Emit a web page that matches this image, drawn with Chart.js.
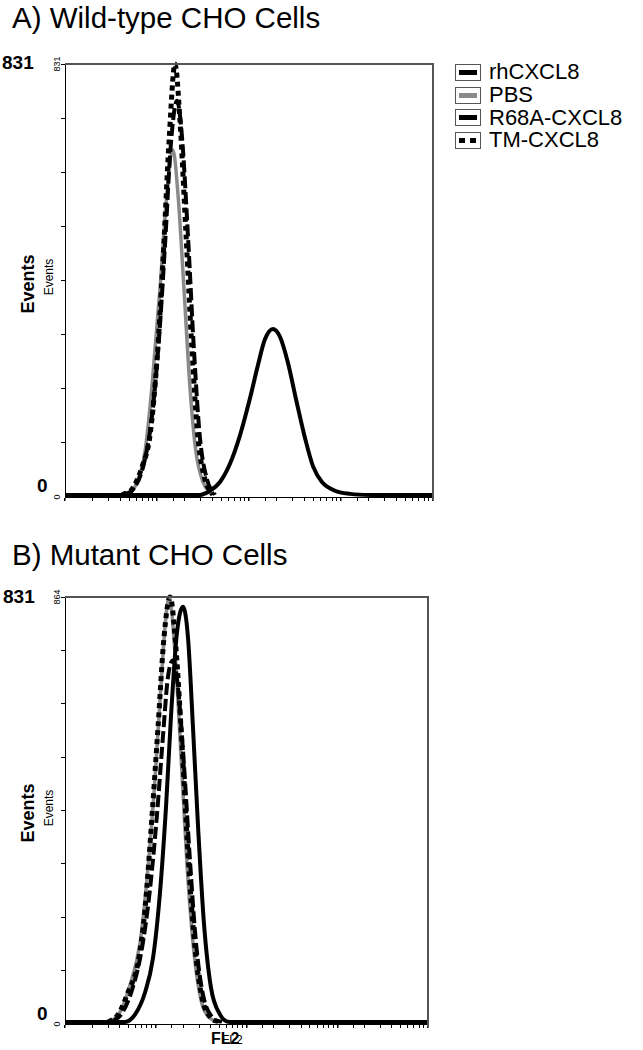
<!DOCTYPE html>
<html>
<head>
<meta charset="utf-8">
<script src="https://cdn.jsdelivr.net/npm/chart.js@4"></script>
<style>
  body { margin: 0; background: #fff; width: 643px; height: 1050px; position: relative; overflow: hidden;
         font-family: "Liberation Sans", Arial, sans-serif; color: #000; }
  canvas { position: absolute; }
  .t { position: absolute; white-space: nowrap; line-height: 1; }
  .rot { position: absolute; white-space: nowrap; line-height: 1; transform: translate(-50%, -50%) rotate(-90deg); }
  .leg { position: absolute; left: 455px; top: 61px; }
  .leg .row { height: 22.7px; display: flex; align-items: center; font-size: 22px; }
  .leg .box { width: 26px; height: 17px; border: 1px solid #555; margin-right: 8px; position: relative; box-sizing: border-box; }
  .leg .ln { position: absolute; left: 3px; right: 3px; top: 5px; height: 5px; }
</style>
</head>
<body>
<div class="t" style="left:12px;top:3px;font-size:29.5px;">A) Wild-type CHO Cells</div>
<div class="t" style="left:12px;top:540px;font-size:29.5px;">B) Mutant CHO Cells</div>

<div class="t" style="left:2px;top:53px;font-size:19px;font-weight:bold;">831</div>
<div class="t" style="left:37px;top:476px;font-size:19px;font-weight:bold;">0</div>
<div class="rot" style="left:57px;top:64px;font-size:9px;">831</div>
<div class="rot" style="left:57px;top:497px;font-size:9px;">0</div>
<div class="rot" style="left:28px;top:284px;font-size:18px;font-weight:bold;">Events</div>
<div class="rot" style="left:49px;top:277px;font-size:12px;">Events</div>

<div class="t" style="left:3px;top:587px;font-size:19px;font-weight:bold;">831</div>
<div class="t" style="left:37px;top:1004px;font-size:19px;font-weight:bold;">0</div>
<div class="rot" style="left:57px;top:597px;font-size:9px;">864</div>
<div class="rot" style="left:57px;top:1024px;font-size:9px;">0</div>
<div class="rot" style="left:28px;top:813px;font-size:18px;font-weight:bold;">Events</div>
<div class="rot" style="left:49px;top:808px;font-size:12px;">Events</div>
<div class="t" style="left:211px;top:1031px;font-size:16px;font-weight:bold;">FL2</div>
<div class="t" style="left:222px;top:1034px;font-size:12px;">FL2</div>

<div class="leg" id="legend"></div>

<canvas id="chartA" width="388" height="453" style="left:53px;top:56px;"></canvas>
<canvas id="chartB" width="383" height="447" style="left:53px;top:589px;"></canvas>

<script>
// series labels
const seriesNames = ['rhCXCL8', 'PBS', 'R68A-CXCL8', 'TM-CXCL8'];

// Panel A: wild-type CHO cells (FL2 channel, events)
const rhA_fl2 = [1, 29.3, 37.7, 48.4, 62.1, 79.8, 102, 125, 149, 182, 217, 265, 324, 406, 497, 621, 861, 1253, 2067, 10000];
const rhA_events = [0, 0, 8, 25, 60, 115, 185, 250, 300, 320, 305, 255, 185, 110, 55, 25, 8, 2, 0, 0];
const pbsA_fl2 = [4.5, 5.8, 7.4, 8.8, 10.8, 12.8, 14.9, 16.9, 19.6, 22.8, 26.5, 31.6, 39.6];
const pbsA_events = [0, 17, 83, 208, 400, 580, 665, 580, 400, 208, 83, 25, 0];
const r68aA_fl2 = [4.4, 5.6, 7.2, 8.8, 10.5, 12.2, 14.2, 16.5, 18.7, 21.7, 25.2, 29.3, 34.9, 42.7];
const r68aA_events = [0, 12, 60, 150, 300, 480, 680, 760, 690, 500, 280, 110, 30, 0];
const tmA_fl2 = [4.2, 5.4, 6.9, 8.4, 10.0, 11.6, 13.5, 15.7, 17.8, 20.7, 24.0, 27.9, 33.2, 40.6];
const tmA_events = [0, 12, 55, 115, 260, 450, 680, 831, 720, 500, 280, 110, 30, 0];

// Panel B: mutant CHO cells
const rhB_fl2 = [1, 4.58, 5.9, 7.62, 9.33, 11.1, 13.0, 14.7, 17.1, 20.0, 22.7, 25.7, 29.2, 34.0, 40.6, 51.1, 65.8, 10000];
const rhB_events = [0, 0, 15, 60, 130, 260, 440, 620, 790, 844, 780, 600, 400, 200, 70, 15, 0, 0];
const pbsB_fl2 = [3.13, 4.04, 5.2, 6.7, 8.0, 9.6, 11.1, 12.6, 14.0, 16.3, 19.0, 22.1, 26.4, 31.5, 39.6, 51.1];
const pbsB_events = [0, 20, 75, 160, 290, 470, 650, 800, 864, 750, 540, 320, 140, 45, 8, 0];
const r68aB_fl2 = [3.3, 4.25, 5.47, 7.05, 8.64, 10.3, 12.0, 13.6, 15.5, 17.6, 20.5, 23.8, 27.8, 33.2, 41.7, 53.7];
const r68aB_events = [0, 18, 65, 150, 270, 420, 580, 700, 735, 680, 520, 330, 160, 55, 10, 0];
const tmB_fl2 = [2.98, 3.84, 4.94, 6.37, 7.62, 9.1, 10.6, 12.3, 14.4, 16.7, 19.5, 22.7, 27.1, 32.3, 39.6, 51.1];
const tmB_events = [0, 15, 60, 120, 230, 420, 600, 780, 864, 760, 560, 340, 150, 50, 10, 0];

const yMaxA = 831;
const yMaxB = 864;

// order: lower draws on top; solid rhCXCL8 on top keeps the baseline solid
const styles = [
  { borderColor: '#000', borderWidth: 4, borderDash: [], order: 0 },
  { borderColor: '#8a8a8a', borderWidth: 3.5, borderDash: [], order: 3 },
  { borderColor: '#000', borderWidth: 4, borderDash: [12, 4], order: 2 },
  { borderColor: '#000', borderWidth: 5, borderDash: [5, 4], order: 1 }
];

function pts(xs, ys) {
  return xs.map((x, i) => ({ x: x, y: ys[i] }));
}

function makeDatasets(list) {
  return list.map((d, i) => Object.assign({
    label: seriesNames[i],
    data: pts(d[0], d[1]),
    pointRadius: 0,
    fill: false,
    cubicInterpolationMode: 'monotone',
    borderCapStyle: 'butt',
    clip: false
  }, styles[i]));
}

const frame = {
  id: 'frame',
  afterDraw(chart) {
    const { ctx, chartArea: a } = chart;
    ctx.save();
    ctx.strokeStyle = '#555';
    ctx.lineWidth = 2;
    ctx.beginPath();
    ctx.moveTo(a.left, a.top);
    ctx.lineTo(a.right, a.top);
    ctx.lineTo(a.right, a.bottom + 3);
    ctx.stroke();
    ctx.restore();
  }
};

function opts(yMax) {
  return {
    responsive: false,
    animation: false,
    devicePixelRatio: 1,
    layout: { padding: 8 },
    plugins: { legend: { display: false }, tooltip: { enabled: false } },
    scales: {
      x: {
        type: 'logarithmic', min: 1, max: 10000,
        ticks: { display: false },
        grid: { drawOnChartArea: false, drawTicks: true, tickLength: 4, color: '#000',
                lineWidth: c => (c.tick && c.tick.major ? 1.5 : 1) },
        border: { color: '#000', width: 1 }
      },
      y: {
        // baseline of the histograms sits just above the axis line
        min: -4, max: yMax,
        ticks: { display: false, stepSize: yMax / 8 },
        afterBuildTicks: s => { s.ticks = s.ticks.filter(t => t.value >= 0); },
        grid: { drawOnChartArea: false, drawTicks: true, tickLength: 4, color: '#000' },
        border: { color: '#000', width: 1 }
      }
    }
  };
}

const chartA = new Chart(document.getElementById('chartA'), {
  type: 'line',
  data: { datasets: makeDatasets([[rhA_fl2, rhA_events], [pbsA_fl2, pbsA_events], [r68aA_fl2, r68aA_events], [tmA_fl2, tmA_events]]) },
  options: opts(yMaxA),
  plugins: [frame]
});

new Chart(document.getElementById('chartB'), {
  type: 'line',
  data: { datasets: makeDatasets([[rhB_fl2, rhB_events], [pbsB_fl2, pbsB_events], [r68aB_fl2, r68aB_events], [tmB_fl2, tmB_events]]) },
  options: opts(yMaxB),
  plugins: [frame]
});

// html legend built from panel A datasets
const legend = document.getElementById('legend');
chartA.data.datasets.forEach((ds, i) => {
  const row = document.createElement('div');
  row.className = 'row';
  const box = document.createElement('div');
  box.className = 'box';
  const ln = document.createElement('div');
  ln.className = 'ln';
  if (ds.borderDash.length && ds.borderWidth === 5) {
    ln.style.background = 'repeating-linear-gradient(90deg,#000 0 6px,transparent 6px 11px)';
  } else {
    ln.style.background = ds.borderColor;
  }
  box.appendChild(ln);
  const txt = document.createElement('span');
  txt.textContent = ds.label;
  row.appendChild(box);
  row.appendChild(txt);
  legend.appendChild(row);
});
</script>
</body>
</html>
